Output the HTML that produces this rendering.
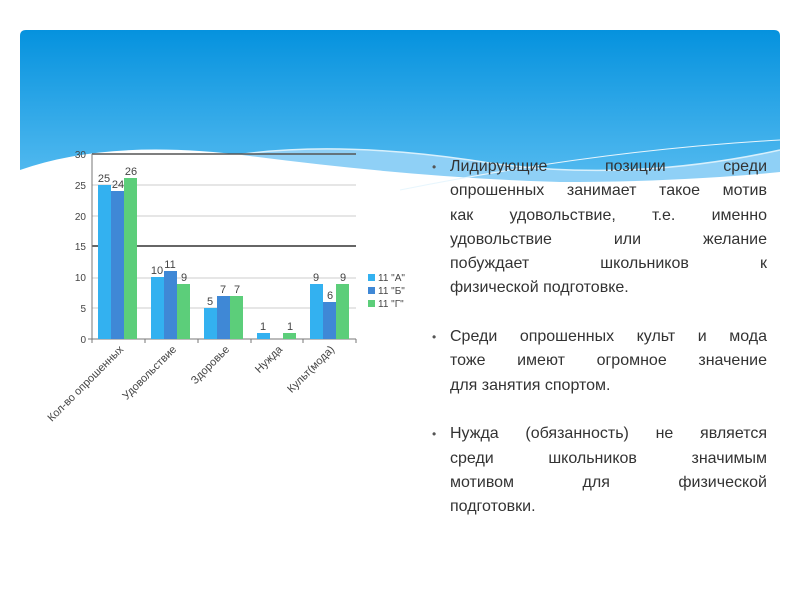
<!DOCTYPE html>
<html><head><meta charset="utf-8"><style>
body{margin:0;width:800px;height:600px;background:#fff;overflow:hidden;position:relative;font-family:"Liberation Sans",sans-serif}
.txt{position:absolute;left:432px;width:335px;color:#333;font-size:16px;line-height:24.3px}
.p{padding-left:18px;position:relative;margin-bottom:24.3px}
.p:before{content:"•";position:absolute;left:0;top:0;font-size:12px;color:#555}
.l{text-align:justify;text-align-last:justify;white-space:nowrap;height:24.3px}
.l.e{text-align-last:left}
</style></head><body>
<svg width="800" height="600" style="position:absolute;left:0;top:0">
<defs><linearGradient id="g" x1="0" y1="0" x2="0" y2="1">
<stop offset="0" stop-color="#0592de"/><stop offset="1" stop-color="#5fc0f2"/></linearGradient></defs>
<path d="M20,36 Q20,30 26,30 L774,30 Q780,30 780,36 L780,200 L20,200 Z" fill="url(#g)"/>
<path d="M230,156 Q330,140 470,160 Q620,185 780,150 L780,200 L230,200 Z" fill="#8fd0f6"/>
<path d="M230,156 Q330,140 470,160 Q620,185 780,150" fill="none" stroke="#d8f0fc" stroke-width="1.5"/>
<path d="M20,170 Q110,138 250,156 Q420,178 560,182 Q680,182 780,172 L780,205 L20,205 Z" fill="#fff"/>
<path d="M400,190 Q600,150 780,140" fill="none" stroke="#e8f6fd" stroke-width="1"/>
<g font-size="10" fill="#444" text-anchor="end">
<text x="86" y="158">30</text><text x="86" y="189">25</text><text x="86" y="220">20</text>
<text x="86" y="250">15</text><text x="86" y="281">10</text><text x="86" y="312">5</text><text x="86" y="343">0</text>
</g>
<g stroke="#ccc"><line x1="92" y1="185" x2="356" y2="185"/><line x1="92" y1="216" x2="356" y2="216"/>
<line x1="92" y1="278" x2="356" y2="278"/><line x1="92" y1="308" x2="356" y2="308"/></g>
<line x1="92" y1="154" x2="356" y2="154" stroke="#555" stroke-width="1.5"/>
<line x1="92" y1="246" x2="356" y2="246" stroke="#333" stroke-width="1.5"/>
<line x1="92" y1="154" x2="92" y2="342" stroke="#777"/>
<line x1="88" y1="339" x2="356" y2="339" stroke="#777"/>
<g stroke="#777"><line x1="92" y1="339" x2="92" y2="343"/><line x1="145" y1="339" x2="145" y2="343"/><line x1="198" y1="339" x2="198" y2="343"/><line x1="251" y1="339" x2="251" y2="343"/><line x1="303" y1="339" x2="303" y2="343"/><line x1="356" y1="339" x2="356" y2="343"/></g>
<g>
<rect x="98" y="185" width="13" height="154" fill="#33b1f0"/><rect x="111" y="191" width="13" height="148" fill="#3f88d6"/><rect x="124" y="178" width="13" height="161" fill="#5cce7a"/>
<rect x="151" y="277" width="13" height="62" fill="#33b1f0"/><rect x="164" y="271" width="13" height="68" fill="#3f88d6"/><rect x="177" y="284" width="13" height="55" fill="#5cce7a"/>
<rect x="204" y="308" width="13" height="31" fill="#33b1f0"/><rect x="217" y="296" width="13" height="43" fill="#3f88d6"/><rect x="230" y="296" width="13" height="43" fill="#5cce7a"/>
<rect x="257" y="333" width="13" height="6" fill="#33b1f0"/><rect x="283" y="333" width="13" height="6" fill="#5cce7a"/>
<rect x="310" y="284" width="13" height="55" fill="#33b1f0"/><rect x="323" y="302" width="13" height="37" fill="#3f88d6"/><rect x="336" y="284" width="13" height="55" fill="#5cce7a"/>
</g>
<g font-size="11" fill="#444" text-anchor="middle">
<text x="104" y="182">25</text><text x="118" y="188">24</text><text x="131" y="175">26</text>
<text x="157" y="274">10</text><text x="170" y="268">11</text><text x="184" y="281">9</text>
<text x="210" y="305">5</text><text x="223" y="293">7</text><text x="237" y="293">7</text>
<text x="263" y="330">1</text><text x="290" y="330">1</text>
<text x="316" y="281">9</text><text x="330" y="299">6</text><text x="343" y="281">9</text>
</g>
<g font-size="11" fill="#444" text-anchor="end">
<text transform="translate(124,350) rotate(-45)">Кол-во опрошенных</text>
<text transform="translate(177,350) rotate(-45)">Удовольствие</text>
<text transform="translate(230,350) rotate(-45)">Здоровье</text>
<text transform="translate(283,350) rotate(-45)">Нужда</text>
<text transform="translate(335,350) rotate(-45)">Культ(мода)</text>
</g>
<rect x="368" y="274" width="7" height="7" fill="#33b1f0"/><rect x="368" y="287" width="7" height="7" fill="#3f88d6"/><rect x="368" y="300" width="7" height="7" fill="#5cce7a"/>
<g font-size="10" fill="#444"><text x="378" y="281">11 "А"</text><text x="378" y="294">11 "Б"</text><text x="378" y="307">11 "Г"</text></g>
</svg>
<div class="txt" style="top:155px">
<div class="p">
<div class="l">Лидирующие позиции среди</div>
<div class="l">опрошенных занимает такое мотив</div>
<div class="l">как удовольствие, т.е. именно</div>
<div class="l">удовольствие или желание</div>
<div class="l">побуждает школьников к</div>
<div class="l e">физической подготовке.</div>
</div>
<div class="p">
<div class="l">Среди опрошенных культ и мода</div>
<div class="l">тоже имеют огромное значение</div>
<div class="l e">для занятия спортом.</div>
</div>
<div class="p">
<div class="l">Нужда (обязанность) не является</div>
<div class="l">среди школьников значимым</div>
<div class="l">мотивом для физической</div>
<div class="l e">подготовки.</div>
</div>
</div>
</body></html>
